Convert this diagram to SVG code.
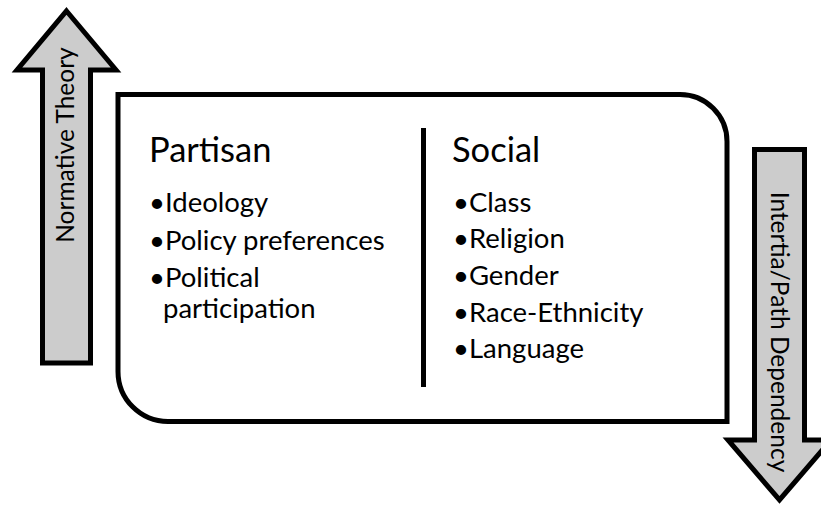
<svg xmlns="http://www.w3.org/2000/svg" width="821" height="508" viewBox="0 0 821 508">
<style>
.arrow{fill:#cccccc;stroke:#000;stroke-width:5;stroke-linejoin:miter;stroke-miterlimit:10}
.box{fill:#fff;stroke:#000;stroke-width:5}
.div{stroke:#000;stroke-width:5}
.t{font-family:Lato,"Open Sans","Liberation Sans",sans-serif;fill:#000}
.h{font-size:34.5px}
.b{font-size:27.5px}
.v{font-size:24.5px}
</style>
<rect width="821" height="508" fill="#fff"/>
<g id="normative-theory">
<polygon class="arrow" points="66.5,11 116,70 90.5,70 90.5,363 42.5,363 42.5,70 17,70"/>
<text class="t v" transform="translate(74,145) rotate(-90)" text-anchor="middle">Normative Theory</text>
</g>
<g id="main-box">
<path class="box" d="M118,94.5 H680 A47,47 0 0 1 727,141.5 V421.5 H168 A50,50 0 0 1 118,371.5 Z"/>
</g>
<g id="connectors">
<line class="div" x1="423.5" y1="128" x2="423.5" y2="387"/>
</g>
<g id="partisan">
<text class="t h" x="149" y="162">Partisan</text>
<text class="t b" x="149" y="212">•Ideology</text>
<text class="t b" x="149" y="250">•Policy preferences</text>
<text class="t b" x="149" y="287">•Political</text>
<text class="t b" x="163" y="318">participation</text>
</g>
<g id="social">
<text class="t h" x="452" y="162">Social</text>
<text class="t b" x="453" y="212">•Class</text>
<text class="t b" x="453" y="248">•Religion</text>
<text class="t b" x="453" y="285">•Gender</text>
<text class="t b" x="453" y="322">•Race-Ethnicity</text>
<text class="t b" x="453" y="358">•Language</text>
</g>
<g id="inertia-path-dependency">
<polygon class="arrow" points="754.5,149.5 804.5,149.5 804.5,440 831,440 779.5,500 728,440 754.5,440"/>
<text class="t v" transform="translate(771,332) rotate(90)" text-anchor="middle">Intertia/Path Dependency</text>
</g>
</svg>
